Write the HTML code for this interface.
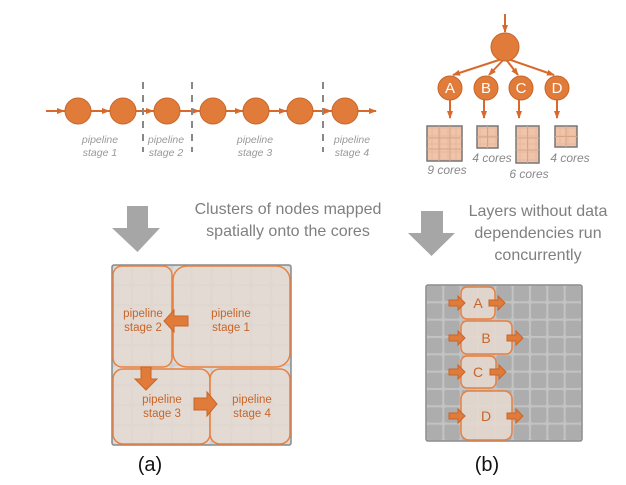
<!DOCTYPE html>
<html><head><meta charset="utf-8"><style>
html,body{margin:0;padding:0;background:#fff;}
svg{display:block;font-family:"Liberation Sans",sans-serif;}
</style></head><body>
<svg width="626" height="485" viewBox="0 0 626 485" xmlns="http://www.w3.org/2000/svg">
<defs>
<marker id="ah" markerWidth="8" markerHeight="8" refX="7" refY="4" orient="auto" markerUnits="userSpaceOnUse">
<path d="M0,1 L8,4 L0,7 Z" fill="#d9692b"/></marker>
<pattern id="ga" x="112" y="265" width="19.9" height="20" patternUnits="userSpaceOnUse">
<rect x="0" y="0" width="19.9" height="20" fill="#cfcfcf"/>
<rect x="1" y="1" width="17.9" height="18" rx="3" fill="#dcdcdc"/></pattern>
<pattern id="gb" x="426" y="285" width="17.33" height="17.33" patternUnits="userSpaceOnUse">
<rect x="0" y="0" width="17.33" height="17.33" fill="#c3c3c3"/>
<rect x="1" y="1" width="15.33" height="15.33" rx="2" fill="#adadad"/></pattern>
<pattern id="gc" x="0" y="0" width="8" height="8" patternUnits="userSpaceOnUse">
<rect width="8" height="8" fill="#e6b9a0"/><rect x="0.5" y="0.5" width="7" height="7" fill="#f0c4a8"/></pattern>
</defs>

<!-- chain -->
<line x1="46" y1="111" x2="376" y2="111" stroke="#d9692b" stroke-width="2" marker-end="url(#ah)"/>
<g stroke="#d9692b" stroke-width="2" marker-end="url(#ah)">
<line x1="46" y1="111" x2="64" y2="111"/><line x1="92" y1="111" x2="109" y2="111"/>
<line x1="137" y1="111" x2="153" y2="111"/><line x1="181" y1="111" x2="199" y2="111"/>
<line x1="227" y1="111" x2="242" y2="111"/><line x1="270" y1="111" x2="286" y2="111"/>
<line x1="314" y1="111" x2="331" y2="111"/>
</g>
<g fill="#e07b39" stroke="#c8652a" stroke-width="1">
<circle cx="78" cy="111" r="13"/><circle cx="123" cy="111" r="13"/><circle cx="167" cy="111" r="13"/>
<circle cx="213" cy="111" r="13"/><circle cx="256" cy="111" r="13"/><circle cx="300" cy="111" r="13"/>
<circle cx="345" cy="111" r="13"/></g>
<g stroke="#888" stroke-width="2" stroke-dasharray="7,6">
<line x1="143" y1="82" x2="143" y2="152"/><line x1="192" y1="82" x2="192" y2="152"/><line x1="323" y1="82" x2="323" y2="152"/></g>
<g fill="#999" font-size="10.5" font-style="italic" text-anchor="middle">
<text x="100" y="143">pipeline</text><text x="100" y="156">stage 1</text>
<text x="166" y="143">pipeline</text><text x="166" y="156">stage 2</text>
<text x="255" y="143">pipeline</text><text x="255" y="156">stage 3</text>
<text x="352" y="143">pipeline</text><text x="352" y="156">stage 4</text></g>

<!-- tree -->
<line x1="505" y1="14" x2="505" y2="32" stroke="#d9692b" stroke-width="2" marker-end="url(#ah)"/>
<g stroke="#d9692b" stroke-width="2" marker-end="url(#ah)">
<line x1="505" y1="58" x2="453" y2="75"/><line x1="505" y1="58" x2="489" y2="75"/>
<line x1="505" y1="58" x2="518" y2="75"/><line x1="505" y1="58" x2="554" y2="75"/>
<line x1="450" y1="100" x2="450" y2="118"/><line x1="484" y1="100" x2="484" y2="118"/>
<line x1="519" y1="100" x2="519" y2="118"/><line x1="557" y1="100" x2="557" y2="118"/></g>
<g fill="#e07b39" stroke="#c8652a"><circle cx="505" cy="47" r="14"/>
<circle cx="450" cy="88" r="12"/><circle cx="486" cy="88" r="12"/><circle cx="521" cy="88" r="12"/><circle cx="557" cy="88" r="12"/></g>
<g fill="#fff" font-size="15" text-anchor="middle"><text x="450" y="93">A</text><text x="486" y="93">B</text><text x="521" y="93">C</text><text x="557" y="93">D</text></g>
<g stroke="#777" stroke-width="1.5">
<rect x="427" y="126" width="35" height="35" fill="url(#gc)"/>
<rect x="477" y="126" width="21" height="22" fill="url(#gc)"/>
<rect x="516" y="126" width="23" height="37" fill="url(#gc)"/>
<rect x="555" y="126" width="22" height="21" fill="url(#gc)"/></g>
<g stroke="#d8a584" stroke-width="1">
<line x1="439" y1="126" x2="439" y2="161"/><line x1="450" y1="126" x2="450" y2="161"/>
<line x1="427" y1="138" x2="462" y2="138"/><line x1="427" y1="149" x2="462" y2="149"/>
<line x1="487.5" y1="126" x2="487.5" y2="148"/><line x1="477" y1="137" x2="498" y2="137"/>
<line x1="527.5" y1="126" x2="527.5" y2="163"/><line x1="516" y1="138" x2="539" y2="138"/><line x1="516" y1="150" x2="539" y2="150"/>
<line x1="566" y1="126" x2="566" y2="147"/><line x1="555" y1="136.5" x2="577" y2="136.5"/></g>
<g fill="#888" font-size="12" font-style="italic" text-anchor="middle">
<text x="447" y="174">9 cores</text><text x="492" y="162">4 cores</text><text x="529" y="178">6 cores</text><text x="570" y="162">4 cores</text></g>

<!-- grey arrows -->
<path d="M127,206 H148 V228 H160 L137.5,252 L112,228 H127 Z" fill="#a6a6a6"/>
<path d="M421,211 H443 V233 H455 L431.5,256 L408,233 H421 Z" fill="#a6a6a6"/>
<g fill="#7f7f7f" font-size="16" text-anchor="middle">
<text x="288" y="214">Clusters of nodes mapped</text><text x="288" y="236">spatially onto the cores</text>
<text x="538" y="216">Layers without data</text><text x="538" y="238">dependencies run</text><text x="538" y="260">concurrently</text></g>

<!-- grid a -->
<rect x="112" y="265" width="179" height="180" fill="url(#ga)" stroke="#8a8a8a" stroke-width="1.5" rx="2"/>
<g fill="#e5d9d0" fill-opacity="0.75" stroke="#e8803f" stroke-width="1.5">
<rect x="113" y="266" width="59" height="101" rx="9"/>
<rect x="173" y="266" width="117" height="101" rx="14"/>
<rect x="113" y="369" width="97" height="75" rx="10"/>
<rect x="210" y="369" width="80" height="75" rx="10"/></g>
<g fill="#e07b39" stroke="#c8652a" stroke-width="1">
<path d="M188,316 H174 V310 L164,321 L174,332 V326 H188 Z"/>
<path d="M141,367 V379 H135 L146,390 L157,379 H151 V367 Z"/>
<path d="M194,398 H207 V392 L217,404 L207,416 V410 H194 Z"/></g>
<g fill="#c8652a" font-size="11.5" text-anchor="middle">
<text x="143" y="317">pipeline</text><text x="143" y="331">stage 2</text>
<text x="231" y="317">pipeline</text><text x="231" y="331">stage 1</text>
<text x="162" y="403">pipeline</text><text x="162" y="417">stage 3</text>
<text x="252" y="403">pipeline</text><text x="252" y="417">stage 4</text></g>

<!-- grid b -->
<rect x="426" y="285" width="156" height="156" fill="url(#gb)" stroke="#8a8a8a" stroke-width="1.5" rx="2"/>
<g fill="#e5d9d0" fill-opacity="0.9" stroke="#e8803f" stroke-width="1.5">
<rect x="461" y="287" width="34" height="32" rx="6"/>
<rect x="461" y="321" width="51" height="33" rx="6"/>
<rect x="461" y="356" width="35" height="32" rx="6"/>
<rect x="461" y="391" width="51" height="49" rx="8"/></g>
<g fill="#e07b39" stroke="#c8652a" stroke-width="1">
<path d="M449,300 H458 V296 L465,303 L458,310 V306 H449 Z"/>
<path d="M489,300 H498 V296 L505,303 L498,310 V306 H489 Z"/>
<path d="M449,335 H458 V331 L465,338 L458,345 V341 H449 Z"/>
<path d="M507,335 H516 V331 L523,338 L516,345 V341 H507 Z"/>
<path d="M449,369 H458 V365 L465,372 L458,379 V375 H449 Z"/>
<path d="M490,369 H499 V365 L506,372 L499,379 V375 H490 Z"/>
<path d="M449,413 H458 V409 L465,416 L458,423 V419 H449 Z"/>
<path d="M507,413 H516 V409 L523,416 L516,423 V419 H507 Z"/></g>
<g fill="#c8652a" font-size="14" text-anchor="middle">
<text x="478" y="308">A</text><text x="486" y="343">B</text><text x="478" y="377">C</text><text x="486" y="421">D</text></g>

<g fill="#111" font-size="20" text-anchor="middle"><text x="150" y="471">(a)</text><text x="487" y="471">(b)</text></g>
</svg>
</body></html>
